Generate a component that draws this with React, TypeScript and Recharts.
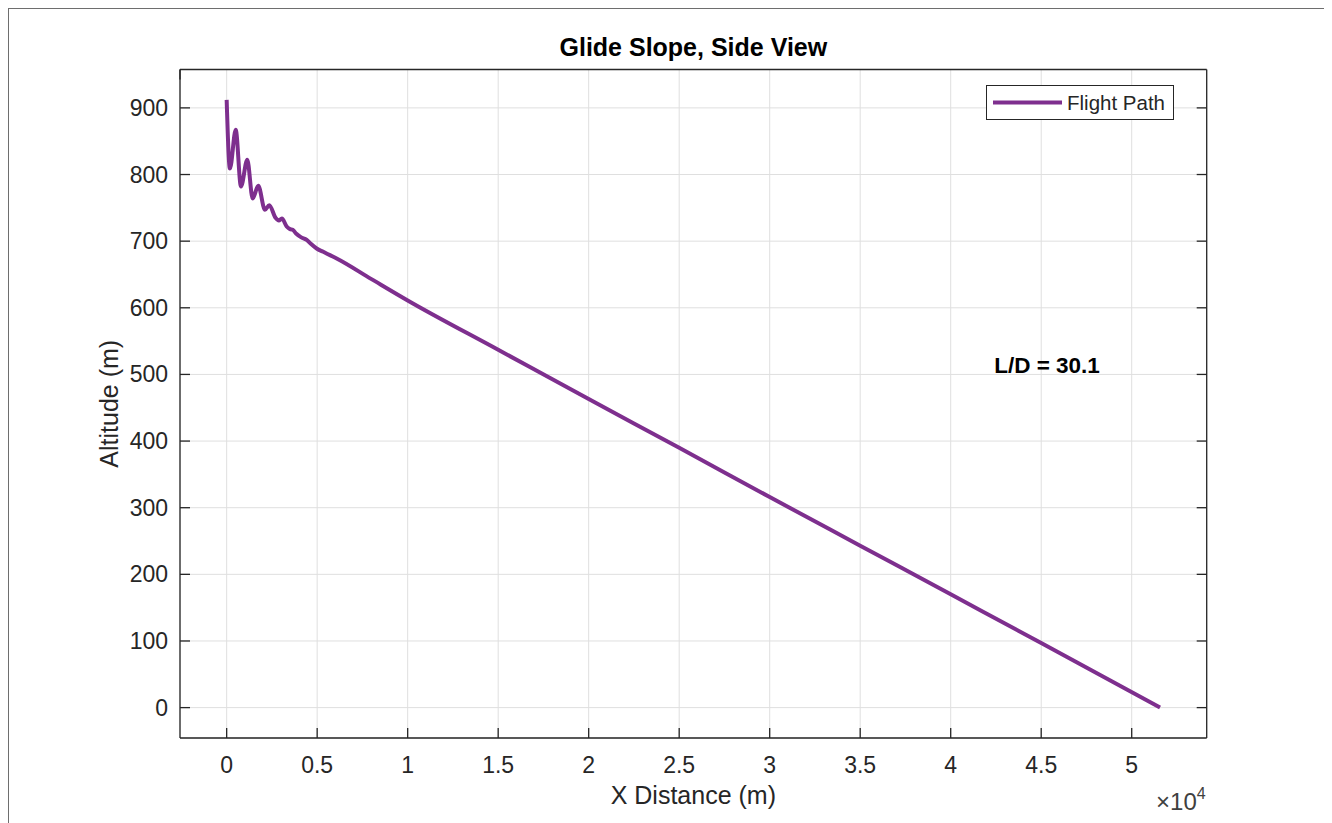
import React from 'react';
import {
  LineChart,
  Line,
  XAxis,
  YAxis,
  CartesianGrid,
  Legend,
  ReferenceDot,
} from 'recharts';

// Horizontal distance travelled (m) and altitude (m) along the glide
const distance = [
  0, 180, 500, 790, 1140, 1436, 1746, 2116, 2354, 2700, 2880, 3050, 3315, 3500,
  3650, 3850, 4100, 4420, 4650, 4972, 5337, 5707, 6077, 8000, 10000, 15000,
  20000, 25000, 30000, 35000, 40000, 45000, 51565,
];
const altitude = [
  912, 809, 867, 782, 822, 764, 783, 747, 754, 735, 731, 734, 722, 718, 717,
  711, 706, 702, 696, 689, 684, 679, 674, 643, 611, 537, 463, 390, 316, 243,
  170, 97, 0,
];

const xTicks = [0, 5000, 10000, 15000, 20000, 25000, 30000, 35000, 40000, 45000, 50000];
const yTicks = [0, 100, 200, 300, 400, 500, 600, 700, 800, 900];
const xDomain: [number, number] = [-2578, 54143];
const yDomain: [number, number] = [-45.6, 957.6];
const xScaleExponent = 4;

const titleText = 'Glide Slope, Side View';
const xLabelText = 'X Distance (m)';
const yLabelText = 'Altitude (m)';
const seriesName = 'Flight Path';
const ratioText = 'L/D = 30.1';
const ratioAnchor = { x: 42400, y: 514 };

const data = distance.map((d, i) => ({ x: d, alt: altitude[i] }));

const FONT = '"Liberation Sans", Arial, Helvetica, sans-serif';
const AXIS = '#262626';
const TEXT = '#262626';
const PURPLE = '#7E2F8E';
const TICK_LEN = 10;

const fmtX = (v: number) => String(v / Math.pow(10, xScaleExponent));

const BottomTick = (props: any) => {
  const { x, y, payload } = props;
  return (
    <g>
      <line x1={x} y1={y} x2={x} y2={y - TICK_LEN} stroke={AXIS} strokeWidth={1.3} />
      <text x={x} y={y + 35} textAnchor="middle" fontSize={23} fill={TEXT} fontFamily={FONT}>
        {fmtX(payload.value)}
      </text>
    </g>
  );
};

const TopTick = (props: any) => {
  const { x, y } = props;
  return <line x1={x} y1={y} x2={x} y2={y + TICK_LEN} stroke={AXIS} strokeWidth={1.3} />;
};

const LeftTick = (props: any) => {
  const { x, y, payload } = props;
  return (
    <g>
      <line x1={x} y1={y} x2={x + TICK_LEN} y2={y} stroke={AXIS} strokeWidth={1.3} />
      <text x={x - 12} y={y + 8} textAnchor="end" fontSize={23} fill={TEXT} fontFamily={FONT}>
        {String(payload.value)}
      </text>
    </g>
  );
};

const RightTick = (props: any) => {
  const { x, y } = props;
  return <line x1={x} y1={y} x2={x - TICK_LEN} y2={y} stroke={AXIS} strokeWidth={1.3} />;
};

const XAxisTitle = (props: any) => {
  const vb = props.viewBox || {};
  const cx = vb.x + vb.width / 2;
  const right = vb.x + vb.width;
  return (
    <g>
      <text x={cx} y={vb.y + 66} textAnchor="middle" fontSize={25} fill={TEXT} fontFamily={FONT}>
        {xLabelText}
      </text>
      <text x={right - 1} y={vb.y + 72} textAnchor="end" fontSize={24} fill="#404040" fontFamily={FONT}>
        <tspan>×10</tspan>
        <tspan dy={-11} fontSize={16}>
          {String(xScaleExponent)}
        </tspan>
      </text>
    </g>
  );
};

const YAxisTitle = (props: any) => {
  const vb = props.viewBox || {};
  const cy = vb.y + vb.height / 2;
  const bx = 109;
  return (
    <text
      x={bx}
      y={cy}
      transform={`rotate(-90, ${bx}, ${cy})`}
      textAnchor="middle"
      fontSize={25}
      fill={TEXT}
      fontFamily={FONT}
    >
      {yLabelText}
    </text>
  );
};

const ChartTitle = (props: any) => {
  const vb = props.viewBox || {};
  return (
    <text
      x={vb.x + vb.width / 2}
      y={vb.y + vb.height - 14}
      textAnchor="middle"
      fontSize={25}
      fontWeight="bold"
      fill="#000"
      fontFamily={FONT}
    >
      {titleText}
    </text>
  );
};

const RatioLabel = (props: any) => {
  const vb = props.viewBox || {};
  return (
    <text
      x={vb.x}
      y={vb.y}
      dominantBaseline="central"
      textAnchor="start"
      fontSize={22.5}
      fontWeight="bold"
      fill="#000"
      fontFamily={FONT}
    >
      {ratioText}
    </text>
  );
};

const LegendBox = (props: any) => {
  const item = (props.payload && props.payload[0]) || { value: seriesName, color: PURPLE };
  return (
    <svg width={188} height={35} style={{ display: 'block' }}>
      <rect x={0.5} y={0.5} width={187} height={34} fill="#fff" stroke={AXIS} strokeWidth={1} />
      <line x1={7} y1={17.5} x2={76} y2={17.5} stroke={item.color || PURPLE} strokeWidth={4} />
      <text x={81} y={25} fontSize={20.5} fill={TEXT} fontFamily={FONT}>
        {item.value}
      </text>
    </svg>
  );
};

export default function App() {
  return (
    // figure frame: border along the top and left edges of the figure window
    <div
      style={{
        marginLeft: -1,
        marginTop: -1,
        width: 1323,
        height: 814,
        borderTop: '2px solid #6e6e6e',
        borderLeft: '2px solid #6e6e6e',
        background: '#fff',
        position: 'relative',
      }}
    >
      <LineChart
        width={1323}
        height={814}
        data={data}
        margin={{ top: 50.5, right: 115.3, left: 111, bottom: 45 }}
      >
        <CartesianGrid stroke="#dfdfdf" strokeWidth={1} />
        <XAxis
          dataKey="x"
          type="number"
          domain={xDomain}
          ticks={xTicks}
          allowDataOverflow
          interval={0}
          height={40}
          tickSize={0}
          tickMargin={0}
          tickLine={false}
          axisLine={{ stroke: AXIS, strokeWidth: 1.3 }}
          tick={BottomTick}
          label={XAxisTitle}
        />
        <XAxis
          xAxisId="top"
          orientation="top"
          type="number"
          domain={xDomain}
          ticks={xTicks}
          allowDataOverflow
          interval={0}
          height={10}
          tickSize={0}
          tickMargin={0}
          tickLine={false}
          axisLine={{ stroke: AXIS, strokeWidth: 1.3 }}
          tick={TopTick}
          label={ChartTitle}
        />
        <YAxis
          type="number"
          domain={yDomain}
          ticks={yTicks}
          allowDataOverflow
          interval={0}
          width={60}
          tickSize={0}
          tickMargin={0}
          tickLine={false}
          axisLine={{ stroke: AXIS, strokeWidth: 1.3 }}
          tick={LeftTick}
          label={YAxisTitle}
        />
        <YAxis
          yAxisId="right"
          orientation="right"
          type="number"
          domain={yDomain}
          ticks={yTicks}
          allowDataOverflow
          interval={0}
          width={10}
          tickSize={0}
          tickMargin={0}
          tickLine={false}
          axisLine={{ stroke: AXIS, strokeWidth: 1.3 }}
          tick={RightTick}
        />
        <Legend
          layout="horizontal"
          verticalAlign="middle"
          align="center"
          content={LegendBox}
          wrapperStyle={{ position: 'absolute', left: 977, top: 76, width: 188, height: 35 }}
        />
        <Line
          type="monotone"
          dataKey="alt"
          name={seriesName}
          stroke={PURPLE}
          strokeWidth={4}
          dot={false}
          activeDot={false}
          isAnimationActive={false}
        />
        <ReferenceDot
          x={ratioAnchor.x}
          y={ratioAnchor.y}
          r={0}
          fill="none"
          stroke="none"
          label={RatioLabel}
        />
      </LineChart>
    </div>
  );
}
